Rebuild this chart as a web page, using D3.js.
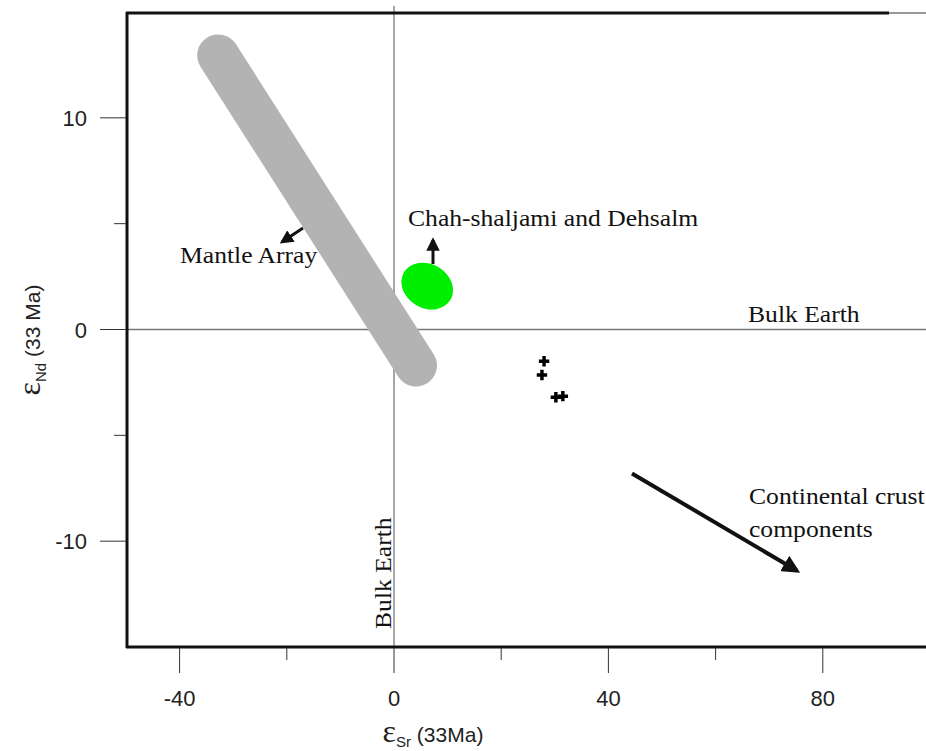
<!DOCTYPE html>
<html>
<head>
<meta charset="utf-8">
<script src="https://cdn.jsdelivr.net/npm/d3@7/dist/d3.min.js"></script>
<style>
  body { margin: 0; background: #fff; }
  svg { display: block; }
  .tick-label { font-family: "Liberation Sans", Arial, sans-serif; font-size: 22px; fill: #222; }
  .note { font-family: "Liberation Serif", "Times New Roman", serif; font-size: 23.5px; fill: #111; }
</style>
</head>
<body>
<svg id="chart" width="926" height="751"></svg>
<script>
// Valeurs.
const xMajorTicks = [-40, 0, 40, 80];
const xMinorTicks = [-20, 20, 60];
const yMajorTicks = [10, 0, -10];
const yMinorTicks = [5, -5];

// Bande "Mantle Array" : debut et fin de l'axe central.
const mantleArray = [[-32.8, 12.95], [4.1, -1.7]];

// Zone verte Chah-shaljami / Dehsalm.
const greenField = { x: 6.2, y: 2.05 };

// Echantillons (croix).
const samplesSr = [28.0, 27.6, 30.2, 31.5];
const samplesNd = [-1.5, -2.15, -3.2, -3.15];

// Fleche vers la croute continentale.
const crustArrow = [[44.4, -6.8], [75.2, -11.4]];

const svg = d3.select("#chart");

const x = d3.scaleLinear().domain([-50, 100]).range([126, 930]);
const y = d3.scaleLinear().domain([-15, 15]).range([647, 12]);

const defs = svg.append("defs");
defs.append("marker")
    .attr("id", "head")
    .attr("viewBox", "0 0 10 10")
    .attr("refX", 8).attr("refY", 5)
    .attr("markerWidth", 4.5).attr("markerHeight", 4.5)
    .attr("orient", "auto")
    .append("path")
    .attr("d", "M0,0 L10,5 L0,10 z")
    .attr("fill", "#111");

// Lignes Bulk Earth.
svg.append("line")
    .attr("x1", x(0)).attr("x2", x(0))
    .attr("y1", 6).attr("y2", y(-15))
    .attr("stroke", "#777").attr("stroke-width", 1.3);
svg.append("line")
    .attr("x1", x(-50)).attr("x2", 926)
    .attr("y1", y(0)).attr("y2", y(0))
    .attr("stroke", "#777").attr("stroke-width", 1.3);

// Mantle array : trait epais a bouts arrondis.
svg.append("line")
    .attr("x1", x(mantleArray[0][0])).attr("y1", y(mantleArray[0][1]))
    .attr("x2", x(mantleArray[1][0])).attr("y2", y(mantleArray[1][1]))
    .attr("stroke", "#b3b3b3").attr("stroke-width", 42)
    .attr("stroke-linecap", "round");

// Champ vert.
svg.append("ellipse")
    .attr("cx", x(greenField.x)).attr("cy", y(greenField.y))
    .attr("rx", 27).attr("ry", 22)
    .attr("transform", "rotate(30," + x(greenField.x) + "," + y(greenField.y) + ")")
    .attr("fill", "#00ee00");

// Croix des echantillons.
const pts = samplesSr.map(function(d, i) { return [d, samplesNd[i]]; });
svg.selectAll(".cross")
    .data(pts)
    .enter()
    .append("path")
    .attr("class", "cross")
    .attr("d", d3.symbol().type(d3.symbolCross).size(60))
    .attr("transform", function(d) { return "translate(" + x(d[0]) + "," + y(d[1]) + ")"; })
    .attr("fill", "#000");

// Fleches.
function arrow(x1, y1, x2, y2, w) {
    svg.append("line")
        .attr("x1", x1).attr("y1", y1).attr("x2", x2).attr("y2", y2)
        .attr("stroke", "#111").attr("stroke-width", w)
        .attr("marker-end", "url(#head)");
}
arrow(x(crustArrow[0][0]), y(crustArrow[0][1]), x(crustArrow[1][0]), y(crustArrow[1][1]), 4);
arrow(433, 264, 433, 240, 3);
arrow(303, 228, 282, 242, 3);

// Textes (legerement etires comme sur l'original).
function note(tx, ty, txt, rot) {
    svg.append("text").attr("class", "note")
        .attr("transform", "translate(" + tx + "," + ty + ")" + (rot ? " rotate(-90)" : "") + " scale(1.09,1)")
        .text(txt);
}
note(408, 226, "Chah-shaljami and Dehsalm");
note(180, 263, "Mantle Array");
note(748, 322, "Bulk Earth");
note(749, 504, "Continental crust");
note(749, 537, "components");
note(391, 629, "Bulk Earth", true);

// Cadre.
svg.append("line").attr("x1", 126).attr("x2", 889).attr("y1", 13).attr("y2", 13)
    .attr("stroke", "#111").attr("stroke-width", 3);
svg.append("line").attr("x1", 889).attr("x2", 926).attr("y1", 13).attr("y2", 13)
    .attr("stroke", "#333").attr("stroke-width", 1.2);
svg.append("line").attr("x1", 127).attr("x2", 127).attr("y1", 12).attr("y2", 648)
    .attr("stroke", "#111").attr("stroke-width", 3);
svg.append("line").attr("x1", 126).attr("x2", 926).attr("y1", 647).attr("y2", 647)
    .attr("stroke", "#111").attr("stroke-width", 3);

// Graduations X.
const gx = svg.append("g");
gx.selectAll(".xmaj").data(xMajorTicks).enter().append("line")
    .attr("x1", x).attr("x2", x).attr("y1", 648).attr("y2", 673)
    .attr("stroke", "#333").attr("stroke-width", 1);
gx.selectAll(".xmin").data(xMinorTicks).enter().append("line")
    .attr("x1", x).attr("x2", x).attr("y1", 648).attr("y2", 660)
    .attr("stroke", "#333").attr("stroke-width", 1);
gx.selectAll(".xlab").data(xMajorTicks).enter().append("text")
    .attr("class", "tick-label")
    .attr("x", x).attr("y", 706)
    .attr("text-anchor", "middle")
    .text(function(d) { return d; });

// Graduations Y.
const gy = svg.append("g");
gy.selectAll(".ymaj").data(yMajorTicks).enter().append("line")
    .attr("x1", 100).attr("x2", 126).attr("y1", y).attr("y2", y)
    .attr("stroke", "#333").attr("stroke-width", 1);
gy.selectAll(".ymin").data(yMinorTicks).enter().append("line")
    .attr("x1", 114).attr("x2", 126).attr("y1", y).attr("y2", y)
    .attr("stroke", "#333").attr("stroke-width", 1);
gy.selectAll(".ylab").data(yMajorTicks).enter().append("text")
    .attr("class", "tick-label")
    .attr("x", 87).attr("y", function(d) { return y(d) + 8; })
    .attr("text-anchor", "end")
    .text(function(d) { return d; });

// Titres des axes.
const xt = svg.append("text")
    .attr("x", 433).attr("y", 742)
    .attr("text-anchor", "middle")
    .attr("font-family", "Liberation Sans, Arial, sans-serif")
    .attr("font-size", 21).attr("fill", "#222");
xt.append("tspan").attr("font-family", "Liberation Serif, serif").attr("font-size", 32).text("\u03b5");
xt.append("tspan").attr("font-size", 15).attr("dy", 5).text("Sr");
xt.append("tspan").attr("dy", -5).text(" (33Ma)");

const yt = svg.append("text")
    .attr("transform", "translate(40,340) rotate(-90)")
    .attr("text-anchor", "middle")
    .attr("font-family", "Liberation Sans, Arial, sans-serif")
    .attr("font-size", 21).attr("fill", "#222");
yt.append("tspan").attr("font-family", "Liberation Serif, serif").attr("font-size", 32).text("\u03b5");
yt.append("tspan").attr("font-size", 15).attr("dy", 6).text("Nd");
yt.append("tspan").attr("dy", -6).text(" (33 Ma)");
</script>
</body>
</html>
